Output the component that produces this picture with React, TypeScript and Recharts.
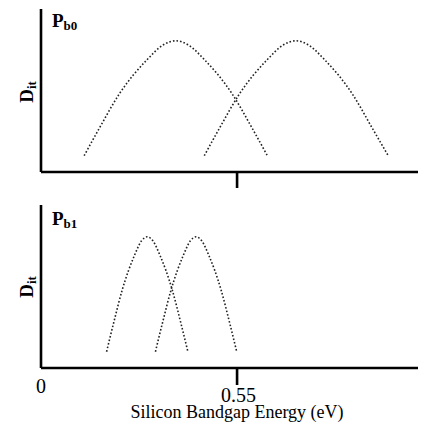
import React from "react";
import { LineChart, Line, XAxis, YAxis } from "recharts";

// Pb0 panel curves (energy in eV, Dit in arbitrary units)
const pb0LeftX = [0.121, 0.164, 0.22, 0.298, 0.343, 0.378, 0.413, 0.458, 0.536, 0.592, 0.635];
const pb0RightX = [0.458, 0.501, 0.557, 0.635, 0.68, 0.715, 0.75, 0.795, 0.873, 0.929, 0.974];
// Pb1 panel curves
const pb1LeftX = [0.184, 0.203, 0.228, 0.262, 0.282, 0.298, 0.314, 0.334, 0.368, 0.393, 0.412];
const pb1RightX = [0.321, 0.34, 0.365, 0.399, 0.419, 0.435, 0.451, 0.471, 0.505, 0.53, 0.549];
const ditValues = [10, 27, 48, 69, 78, 80.5, 78, 69, 48, 27, 10];

const topTicks = [0.55];
const bottomTicks = [0, 0.55];
const xDomain = [0, 1.08];
const yDomain = [0, 100];
const xTitle = "Silicon Bandgap Energy (eV)";

const toData = (xs: number[]) => xs.map((x, i) => ({ x, y: ditValues[i] }));

const FONT = "'Liberation Serif', 'Times New Roman', Tinos, 'DejaVu Serif', serif";
const AX = "#000";
const txtStyle = { fontFamily: FONT };

const lineProps = {
  dataKey: "y",
  type: "monotone" as const,
  dot: false,
  stroke: "#222",
  strokeWidth: 1.6,
  strokeDasharray: "1.6 2",
  isAnimationActive: false,
  activeDot: false,
};

const panelLabel = (sub: string, pY: number, ditY: number) => (props: any) => {
  return (
    <g>
      <text
        x={24.5}
        y={ditY}
        transform={`rotate(-90 24.5 ${ditY})`}
        textAnchor="middle"
        style={txtStyle}
        fontWeight="bold"
        fontSize={19}
        fill="#000"
      >
        D<tspan fontSize={13} dy={3}>it</tspan>
      </text>
      <text x={44} y={pY} style={txtStyle} fontWeight="bold" fontSize={19} fill="#000">
        P<tspan fontSize={13} dy={3}>{sub}</tspan>
      </text>
    </g>
  );
};

const TopTick = (props: any) => {
  const { x, y } = props;
  return <line x1={x} x2={x} y1={y} y2={y + 16} stroke={AX} strokeWidth={2.6} />;
};

const BottomTick = (props: any) => {
  const { x, y, payload } = props;
  if (payload.value === 0) {
    return (
      <text x={x} y={y + 25} textAnchor="middle" style={txtStyle} fontSize={20} fill="#000">
        0
      </text>
    );
  }
  return (
    <g>
      <line x1={x} x2={x} y1={y} y2={y + 17} stroke={AX} strokeWidth={2.6} />
      <text x={x + 1.5} y={y + 34} textAnchor="middle" style={txtStyle} fontSize={20} fill="#000">
        {String(payload.value)}
      </text>
    </g>
  );
};

const XTitle = (props: any) => {
  const vb = props.viewBox || { x: 33, y: 164 };
  return (
    <text x={vb.x + 196} y={vb.y + 50} textAnchor="middle" style={txtStyle} fontSize={18} fill="#000">
      {xTitle}
    </text>
  );
};

export default function App() {
  return (
    <div style={{ width: 418, height: 414, fontFamily: FONT }}>
      <LineChart width={418} height={196} margin={{ top: 1, right: 0, bottom: 0, left: 0 }}>
        <XAxis
          type="number"
          dataKey="x"
          domain={xDomain}
          ticks={topTicks}
          allowDataOverflow
          height={32}
          tickLine={false}
          tickSize={0}
          tickMargin={0}
          tick={<TopTick />}
          axisLine={{ stroke: AX, strokeWidth: 2.6 }}
        />
        <YAxis
          type="number"
          domain={yDomain}
          width={33}
          tick={false}
          tickLine={false}
          axisLine={{ stroke: AX, strokeWidth: 2.6 }}
          label={{ content: panelLabel("b0", 19, 84) }}
        />
        <Line {...lineProps} data={toData(pb0LeftX)} />
        <Line {...lineProps} data={toData(pb0RightX)} />
      </LineChart>
      <LineChart width={418} height={218} margin={{ top: 1, right: 0, bottom: 0, left: 0 }}>
        <XAxis
          type="number"
          dataKey="x"
          domain={xDomain}
          ticks={bottomTicks}
          allowDataOverflow
          height={54}
          tickLine={false}
          tickSize={0}
          tickMargin={0}
          tick={<BottomTick />}
          axisLine={{ stroke: AX, strokeWidth: 2.6 }}
          label={{ content: XTitle }}
        />
        <YAxis
          type="number"
          domain={yDomain}
          width={33}
          tick={false}
          tickLine={false}
          axisLine={{ stroke: AX, strokeWidth: 2.6 }}
          label={{ content: panelLabel("b1", 21, 83) }}
        />
        <Line {...lineProps} data={toData(pb1LeftX)} />
        <Line {...lineProps} data={toData(pb1RightX)} />
      </LineChart>
    </div>
  );
}
